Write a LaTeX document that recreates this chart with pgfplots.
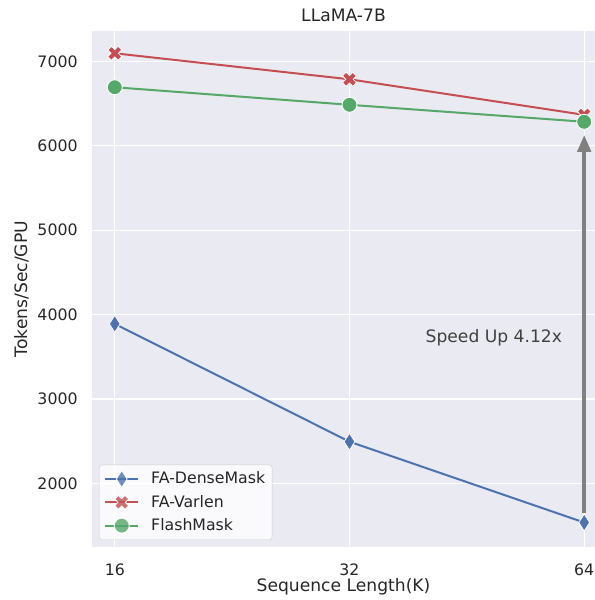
\documentclass[border=0pt]{standalone}
\usepackage{fontspec}
\setmainfont{DejaVu Sans}
\usepackage{pgfplots}
\pgfplotsset{compat=1.18}
\usetikzlibrary{arrows.meta}
\definecolor{sbblue}{HTML}{4C72B0}
\definecolor{sbred}{HTML}{C44E52}
\definecolor{sbgreen}{HTML}{55A868}
\definecolor{sbbg}{HTML}{EAEAF2}
\definecolor{sbtext}{HTML}{262626}
\pgfdeclareplotmark{Xfill}{%
  \pgfmathsetlengthmacro{\r}{\pgfplotmarksize}%
  \pgfmathsetlengthmacro{\d}{0.52*\pgfplotmarksize}%
  \pgfmathsetlengthmacro{\e}{0.48*\pgfplotmarksize}%
  \pgfpathmoveto{\pgfqpoint{0pt}{\d}}%
  \pgfpathlineto{\pgfqpoint{\e}{\r}}%
  \pgfpathlineto{\pgfqpoint{\r}{\e}}%
  \pgfpathlineto{\pgfqpoint{\d}{0pt}}%
  \pgfpathlineto{\pgfqpoint{\r}{-\e}}%
  \pgfpathlineto{\pgfqpoint{\e}{-\r}}%
  \pgfpathlineto{\pgfqpoint{0pt}{-\d}}%
  \pgfpathlineto{\pgfqpoint{-\e}{-\r}}%
  \pgfpathlineto{\pgfqpoint{-\r}{-\e}}%
  \pgfpathlineto{\pgfqpoint{-\d}{0pt}}%
  \pgfpathlineto{\pgfqpoint{-\r}{\e}}%
  \pgfpathlineto{\pgfqpoint{-\e}{\r}}%
  \pgfpathclose
  \pgfusepathqfillstroke}
\begin{document}
\fontsize{15.8}{19}\selectfont
\begin{tikzpicture}
\begin{axis}[
  name=ax,
  at={(0,0)}, anchor=south west,
  scale only axis,
  width=503bp, height=516bp,
  xmin=-0.097, xmax=2.046,
  ymin=1249, ymax=7359,
  xtick={0,1,2}, xticklabels={16,32,64},
  ytick={2000,3000,4000,5000,6000,7000},
  /pgf/number format/1000 sep={},
  /pgf/number format/assume math mode=true,
  major tick length=0pt,
  axis background/.style={fill=sbbg},
  axis line style={draw=none},
  grid=major,
  major grid style={white, line width=1.3bp},
  tick label style={text=sbtext, font=\fontsize{15.8}{19}\selectfont},
  yticklabel style={xshift=-9bp},
  xticklabel style={yshift=-11bp},
  label style={text=sbtext, font=\fontsize{17.2}{20}\selectfont},
  xlabel={Sequence Length(K)},
  ylabel={Tokens/Sec/GPU},
  title={LLaMA-7B},
  title style={text=sbtext, font=\fontsize{17.2}{20}\selectfont, yshift=-2.5bp},
  xlabel style={yshift=8bp},
  ylabel style={yshift=-2bp},
  legend style={at={(0.014,0.0136)}, anchor=south west, fill=white, fill opacity=0.8, text opacity=1, draw=black!20, rounded corners=3bp, font=\fontsize{15.8}{19}\selectfont, text=sbtext, row sep=5bp, column sep=10bp, inner xsep=5bp, inner ysep=5bp},
  legend cell align=left,
  legend image code/.code={%
    \draw[mark repeat=2,mark phase=2] plot coordinates {(0bp,0bp) (16.5bp,0bp) (33bp,0bp)};},
]
\addplot[sbblue, line width=2bp, mark=diamond*, mark size=8.5bp, mark options={xscale=0.85, fill=sbblue, draw=white, line width=0.8bp}]
  coordinates {(0,3891) (1,2496) (2,1539)};
\addlegendentry{FA-DenseMask}
\addplot[sbred, line width=2bp, mark=Xfill, mark size=7bp, mark options={fill=sbred, draw=white, line width=0.8bp}]
  coordinates {(0,7095) (1,6787) (2,6366)};
\addlegendentry{FA-Varlen}
\addplot[sbgreen, line width=2bp, mark=*, mark size=7.5bp, mark options={fill=sbgreen, draw=white, line width=0.9bp}]
  coordinates {(0,6693) (1,6485) (2,6284)};
\addlegendentry{FlashMask}
\draw[gray, line width=4.5bp, -{Triangle[width=13bp,length=17bp]}] (axis cs:2,1648) -- (axis cs:2,6130);
\node[text=black!75, font=\fontsize{17.2}{20}\selectfont] at (axis cs:1.615,3721) {Speed Up 4.12x};
\end{axis}
\pgfresetboundingbox
\path[use as bounding box] ([shift={(-92bp,-53bp)}]ax.south west) rectangle ([shift={(503bp,547bp)}]ax.south west);
\end{tikzpicture}
\end{document}
